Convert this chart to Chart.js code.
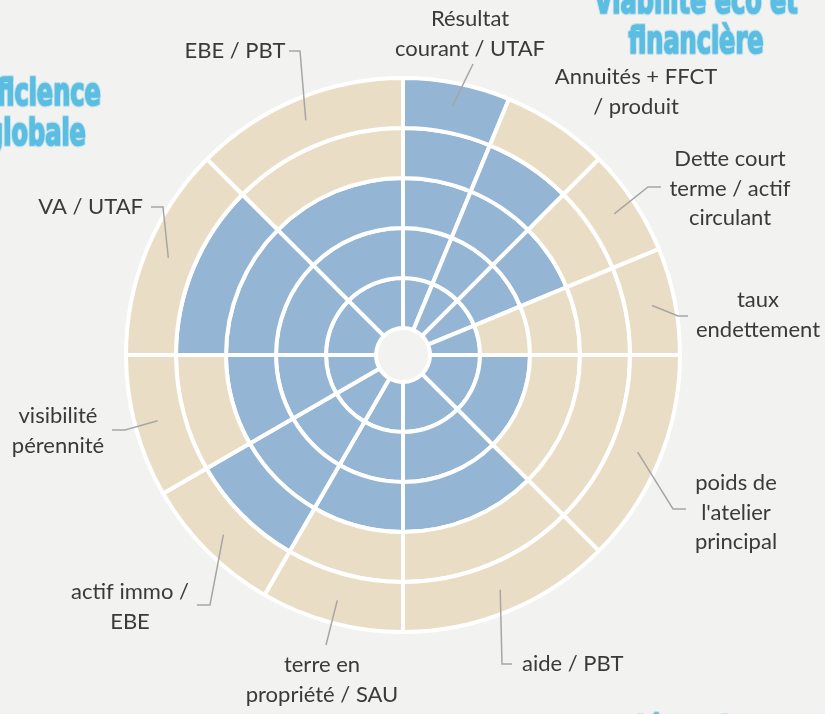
<!DOCTYPE html>
<html lang="fr">
<head>
<meta charset="utf-8">
<title>Dimension économique</title>
<script src="https://cdn.jsdelivr.net/npm/chart.js@4/dist/chart.umd.min.js"></script>
<style>
  html, body { margin: 0; padding: 0; background: #f2f2f0; }
  #wrap { position: relative; width: 825px; height: 714px; overflow: hidden; }
</style>
</head>
<body>
<div id="wrap">
  <canvas id="wheelChart" width="825" height="714"></canvas>
</div>
<script>
// ========= Data =========
const categories = [
  ['Résultat', 'courant / UTAF'],
  ['Annuités + FFCT', '/ produit'],
  ['Dette court', 'terme / actif', 'circulant'],
  ['taux', 'endettement'],
  ['poids de', "l'atelier", 'principal'],
  ['aide / PBT'],
  ['terre en', 'propriété / SAU'],
  ['actif immo /', 'EBE'],
  ['visibilité', 'pérennité'],
  ['VA / UTAF'],
  ['EBE / PBT']
];
// angular share of each sector (degrees)
const sectorWidths = [22.5, 22.5, 22.5, 22.5, 45, 45, 30, 30, 30, 45, 45];
// number of rings reached, from the centre
const scores = [5, 4, 3, 1, 2, 3, 3, 4, 3, 4, 3];
const ringLevels = [1, 2, 3, 4, 5];

const titles = [
  { lines: ['Efficience', 'globale'], x: 36, y: [105, 145] },
  { lines: ['Viabilité éco et', 'financière'], x: 696, y: [13, 53] },
  { lines: ['Indépendance'], x: 697, y: [743] }
];

// ========= Colors =========
const colors = {
  blue: '#94b5d3',
  sand: '#eaddc5',
  bg: '#f2f2f0',
  border: '#ffffff',
  text: '#3a3a3a',
  leader: '#a6a6a6',
  title: '#5bbde2'
};

// label placement: leader path after the anchor in the sector, then text spot
const labelLayout = [
  { path: [[473, 64]], text: [470, 19], align: 'center' },
  { path: null, text: [636, 77], align: 'center' },
  { path: [[648, 187], [661, 187]], text: [730, 159], align: 'center' },
  { path: [[678, 316], [688, 316]], text: [758, 300], align: 'center' },
  { path: [[673, 509], [686, 509]], text: [736, 483], align: 'center' },
  { path: [[502, 664], [512, 664]], text: [522, 664], align: 'left' },
  { path: [[326, 645]], text: [322, 665], align: 'center' },
  { path: [[210, 605], [197, 605]], text: [130, 592], align: 'center' },
  { path: [[125, 430], [112, 430]], text: [58, 416], align: 'center' },
  { path: [[163, 207], [151, 207]], text: [143, 207], align: 'right' },
  { path: [[300, 51], [289, 51]], text: [235, 51], align: 'center' }
];

// ========= Datasets (outer ring first) =========
const datasets = ringLevels.slice().reverse().map(level => {
  const fills = scores.map(s => (s >= level ? colors.blue : colors.sand));
  return {
    label: 'niveau ' + level,
    data: sectorWidths,
    backgroundColor: fills,
    hoverBackgroundColor: fills,
    borderColor: colors.border,
    hoverBorderColor: colors.border,
    borderWidth: 4,
    hoverOffset: 0
  };
});

// ========= Labels + titles plugin =========
const labelsPlugin = {
  id: 'wheelLabels',
  afterDraw(chart) {
    const ctx = chart.ctx;
    const arcs = chart.getDatasetMeta(0).data;

    ctx.save();
    // leaders
    ctx.strokeStyle = colors.leader;
    ctx.lineWidth = 1.5;
    arcs.forEach((arc, i) => {
      const lay = labelLayout[i];
      if (!lay.path) return;
      const mid = (arc.startAngle + arc.endAngle) / 2;
      const r = arc.outerRadius - 23;
      ctx.beginPath();
      ctx.moveTo(arc.x + Math.cos(mid) * r, arc.y + Math.sin(mid) * r);
      lay.path.forEach(p => ctx.lineTo(p[0], p[1]));
      ctx.stroke();
    });

    // category labels
    ctx.fillStyle = colors.text;
    ctx.font = '22px Lato, "Open Sans", sans-serif';
    ctx.textBaseline = 'middle';
    categories.forEach((lines, i) => {
      const lay = labelLayout[i];
      ctx.textAlign = lay.align;
      lines.forEach((line, j) => {
        ctx.fillText(line, lay.text[0], lay.text[1] + j * 29.5);
      });
    });

    // section titles, squeezed to look condensed
    ctx.font = 'bold 38px "DejaVu Sans Condensed", "DejaVu Sans", sans-serif';
    ctx.textAlign = 'center';
    ctx.textBaseline = 'alphabetic';
    ctx.lineJoin = 'round';
    const squeeze = 135 / ctx.measureText('financière').width;
    titles.forEach(t => {
      t.lines.forEach((line, j) => {
        ctx.save();
        ctx.translate(t.x, t.y[j]);
        ctx.scale(squeeze, 1);
        ctx.lineWidth = 4;
        ctx.strokeStyle = 'rgba(91, 189, 226, 0.3)';
        ctx.strokeText(line, 0, 0);
        ctx.lineWidth = 1.6;
        ctx.strokeStyle = colors.title;
        ctx.strokeText(line, 0, 0);
        ctx.fillStyle = colors.title;
        ctx.fillText(line, 0, 0);
        ctx.restore();
      });
    });
    ctx.restore();
  }
};

// ========= Chart =========
new Chart(document.getElementById('wheelChart'), {
  type: 'doughnut',
  data: {
    labels: categories.map(c => c.join(' ')),
    datasets: datasets
  },
  options: {
    responsive: false,
    animation: false,
    events: [],
    cutout: 27,
    layout: { padding: { left: 124, top: 76, right: 143, bottom: 80 } },
    plugins: {
      legend: { display: false },
      tooltip: { enabled: false }
    }
  },
  plugins: [labelsPlugin]
});
</script>
</body>
</html>
